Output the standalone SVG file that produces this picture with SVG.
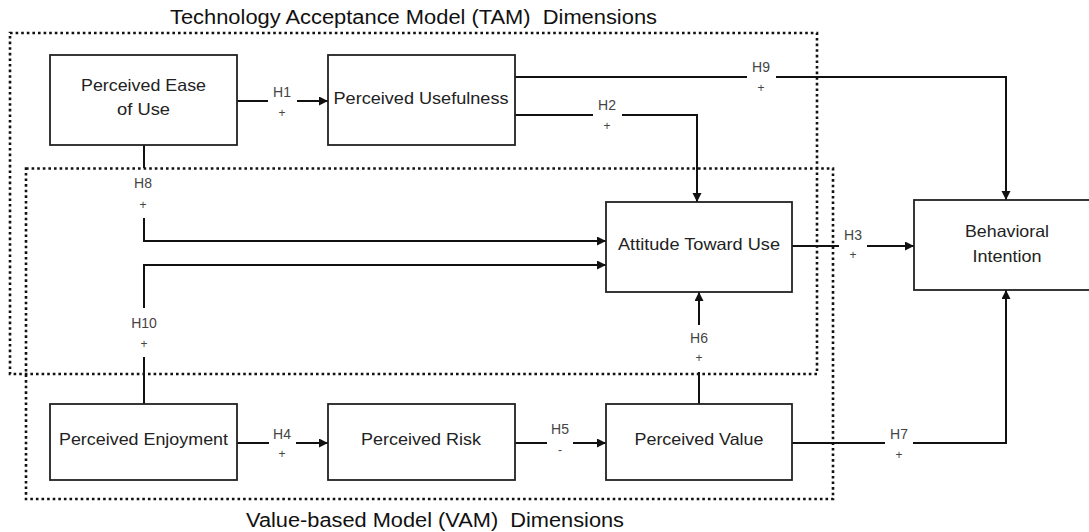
<svg xmlns="http://www.w3.org/2000/svg" width="1089" height="532" viewBox="0 0 1089 532">
<style>
.box{fill:#fff;stroke:#222;stroke-width:1.8}
.dot{fill:none;stroke:#111;stroke-width:2.6;stroke-dasharray:2.6 3}
.bt{font-family:"Liberation Sans",Arial,sans-serif;font-size:16.5px;fill:#222;text-anchor:middle}
.ttl{font-family:"Liberation Sans",Arial,sans-serif;font-size:20px;fill:#111;text-anchor:middle}
.lb{font-family:"Liberation Sans",Arial,sans-serif;font-size:14px;fill:#444;text-anchor:middle}
.pl{font-family:"Liberation Sans",Arial,sans-serif;font-size:12px;fill:#444;text-anchor:middle}
.c{fill:none;stroke:#111;stroke-width:2}
</style>
<defs>
<marker id="ah" markerUnits="userSpaceOnUse" markerWidth="10" markerHeight="10" refX="9" refY="4.5" orient="auto">
<path d="M0,0 L9,4.5 L0,9 z" fill="#111"/>
</marker>
</defs>
<rect fill="#fff" width="1089" height="532"/>
<g id="groups">
<rect class="dot" x="10" y="33" width="807" height="341"/>
<rect class="dot" x="26" y="168.5" width="807" height="330.5"/>
<text class="ttl" x="413.5" y="24" textLength="487" lengthAdjust="spacingAndGlyphs" xml:space="preserve">Technology Acceptance Model (TAM)  Dimensions</text>
<text class="ttl" x="435" y="527" textLength="378" lengthAdjust="spacingAndGlyphs" xml:space="preserve">Value-based Model (VAM)  Dimensions</text>
</g>
<g id="connectors">
<path class="c" d="M237,101 H268"/><path class="c" d="M297,101 H328" marker-end="url(#ah)"/>
<text class="lb" x="282" y="97">H1</text><text class="pl" x="282" y="117">+</text>
<path class="c" d="M515,115 H593"/><path class="c" d="M622,115 H697 V202" marker-end="url(#ah)"/>
<text class="lb" x="607" y="110">H2</text><text class="pl" x="607" y="130">+</text>
<path class="c" d="M515,77 H747"/><path class="c" d="M776,77 H1006 V200" marker-end="url(#ah)"/>
<text class="lb" x="761" y="72">H9</text><text class="pl" x="761" y="92">+</text>
<path class="c" d="M144,145 V168"/><path class="c" d="M144,218 V241 H606" marker-end="url(#ah)"/>
<text class="lb" x="143" y="188">H8</text><text class="pl" x="143" y="209">+</text>
<path class="c" d="M144,404 V357"/><path class="c" d="M144,308 V265 H606" marker-end="url(#ah)"/>
<text class="lb" x="144" y="328">H10</text><text class="pl" x="144" y="348">+</text>
<path class="c" d="M792,246 H839"/><path class="c" d="M867,246 H914" marker-end="url(#ah)"/>
<text class="lb" x="853" y="240">H3</text><text class="pl" x="853" y="259">+</text>
<path class="c" d="M237,443 H269"/><path class="c" d="M296,443 H328" marker-end="url(#ah)"/>
<text class="lb" x="282" y="439">H4</text><text class="pl" x="282" y="458">+</text>
<path class="c" d="M515,443 H547"/><path class="c" d="M573,443 H606" marker-end="url(#ah)"/>
<text class="lb" x="560" y="434">H5</text><text class="pl" x="560" y="454">-</text>
<path class="c" d="M699,404 V372"/><path class="c" d="M699,325 V292" marker-end="url(#ah)"/>
<text class="lb" x="699" y="343">H6</text><text class="pl" x="699" y="362">+</text>
<path class="c" d="M792,443 H885"/><path class="c" d="M913,443 H1006 V290" marker-end="url(#ah)"/>
<text class="lb" x="899" y="439">H7</text><text class="pl" x="899" y="459">+</text>
</g>
<g id="peou">
<rect class="box" x="50" y="55" width="187" height="90"/>
<text class="bt" x="143.5" y="91" textLength="125" lengthAdjust="spacingAndGlyphs">Perceived Ease</text>
<text class="bt" x="143.5" y="115" textLength="53" lengthAdjust="spacingAndGlyphs">of Use</text>
</g>
<g id="pu">
<rect class="box" x="328" y="55" width="187" height="90"/>
<text class="bt" x="421" y="104" textLength="175" lengthAdjust="spacingAndGlyphs">Perceived Usefulness</text>
</g>
<g id="atu">
<rect class="box" x="606" y="202" width="186" height="90"/>
<text class="bt" x="699" y="250" textLength="162" lengthAdjust="spacingAndGlyphs">Attitude Toward Use</text>
</g>
<g id="bi">
<rect class="box" x="914" y="200" width="190" height="90"/>
<text class="bt" x="1007" y="237" textLength="84" lengthAdjust="spacingAndGlyphs">Behavioral</text>
<text class="bt" x="1007" y="262" textLength="69" lengthAdjust="spacingAndGlyphs">Intention</text>
</g>
<g id="pe">
<rect class="box" x="50" y="404" width="187" height="76"/>
<text class="bt" x="143.5" y="445" textLength="169" lengthAdjust="spacingAndGlyphs">Perceived Enjoyment</text>
</g>
<g id="pr">
<rect class="box" x="328" y="404" width="187" height="76"/>
<text class="bt" x="421" y="445" textLength="120" lengthAdjust="spacingAndGlyphs">Perceived Risk</text>
</g>
<g id="pv">
<rect class="box" x="606" y="404" width="186" height="76"/>
<text class="bt" x="699" y="445" textLength="129" lengthAdjust="spacingAndGlyphs">Perceived Value</text>
</g>
</svg>
